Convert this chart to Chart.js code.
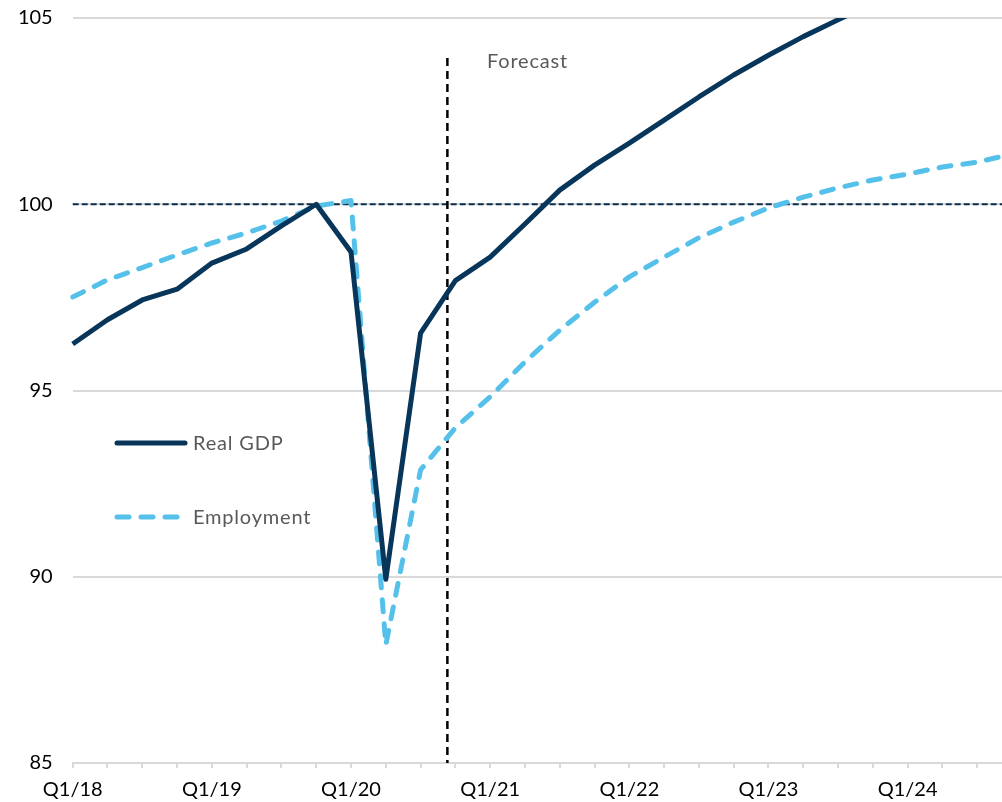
<!DOCTYPE html>
<html>
<head>
<meta charset="utf-8">
<script src="https://cdn.jsdelivr.net/npm/chart.js@4.4.0/dist/chart.umd.min.js"></script>
<style>
html, body { margin: 0; padding: 0; background: #fff; overflow: hidden; }
#wrap { position: relative; width: 1022px; height: 802px; }
</style>
</head>
<body>
<div id="wrap"><canvas id="myChart" width="1022" height="802"></canvas></div>
<script>
// quarters Q1/18 .. Q4/24
var quarters = ['Q1/18','Q2/18','Q3/18','Q4/18','Q1/19','Q2/19','Q3/19','Q4/19',
                'Q1/20','Q2/20','Q3/20','Q4/20','Q1/21','Q2/21','Q3/21','Q4/21',
                'Q1/22','Q2/22','Q3/22','Q4/22','Q1/23','Q2/23','Q3/23','Q4/23',
                'Q1/24','Q2/24','Q3/24','Q4/24'];
var tickLabels = ['Q1/18','Q1/19','Q1/20','Q1/21','Q1/22','Q1/23','Q1/24'];

var realGdp = [96.25, 96.9, 97.43, 97.72, 98.42, 98.8, 99.42, 100.0,
               98.72, 89.93, 96.54, 97.95, 98.58, 99.47, 100.38, 101.05,
               101.64, 102.26, 102.88, 103.47, 104.0, 104.5, 104.95, 105.4,
               105.85, 106.3, 106.7, 107.1];
var employment = [97.51, 97.97, 98.3, 98.64, 98.96, 99.23, 99.55, 99.95,
                  100.1, 88.17, 92.87, 94.0, 94.83, 95.77, 96.62, 97.37,
                  98.05, 98.58, 99.1, 99.52, 99.9, 100.19, 100.44, 100.65,
                  100.81, 101.0, 101.13, 101.35];

var baseline = 100;
var forecastAt = 10.77;   // between Q3/20 and Q4/20
var yTicks = [85, 90, 95, 100, 105];

var gdpColor = '#08365a';
var empColor = '#55c1ea';
var textGray = '#595959';

var refLines = {
    id: 'refLines',
    beforeDatasetsDraw: function(chart) {
        var ctx = chart.ctx, a = chart.chartArea;
        var x = chart.scales.x, y = chart.scales.y;
        ctx.save();
        // baseline at 100
        var yb = y.getPixelForValue(baseline);
        ctx.strokeStyle = '#0b2e4f';
        ctx.lineWidth = 2;
        ctx.setLineDash([6, 3]);
        ctx.beginPath();
        ctx.moveTo(a.left, yb);
        ctx.lineTo(a.right, yb);
        ctx.stroke();
        // forecast divider
        var xf = x.getPixelForValue(forecastAt);
        ctx.strokeStyle = '#000';
        ctx.lineWidth = 2.5;
        ctx.setLineDash([8, 5]);
        ctx.beginPath();
        ctx.moveTo(xf, 58);
        ctx.lineTo(xf, a.bottom);
        ctx.stroke();
        ctx.restore();
    },
    afterDraw: function(chart) {
        var ctx = chart.ctx;
        ctx.save();
        ctx.font = '20px Lato';
        ctx.letterSpacing = '0.8px';
        ctx.fillStyle = textGray;
        ctx.textBaseline = 'middle';
        ctx.fillText('Forecast', 487, 62);
        // legend
        ctx.lineWidth = 5;
        ctx.lineCap = 'round';
        ctx.strokeStyle = gdpColor;
        ctx.setLineDash([]);
        ctx.beginPath();
        ctx.moveTo(117, 443);
        ctx.lineTo(185, 443);
        ctx.stroke();
        ctx.strokeStyle = empColor;
        ctx.setLineDash([12, 12]);
        ctx.beginPath();
        ctx.moveTo(117, 517);
        ctx.lineTo(185, 517);
        ctx.stroke();
        ctx.fillText('Real GDP', 193, 444);
        ctx.fillText('Employment', 193, 518);
        ctx.restore();
    }
};

var ctx = document.getElementById('myChart').getContext('2d');
var myChart = new Chart(ctx, {
    type: 'line',
    data: {
        labels: quarters,
        datasets: [{
            label: 'Employment',
            data: employment,
            borderColor: empColor,
            borderWidth: 5,
            borderDash: [12, 12],
            borderCapStyle: 'round',
            borderJoinStyle: 'round',
            pointRadius: 0,
            tension: 0,
            order: 2
        }, {
            label: 'Real GDP',
            data: realGdp,
            borderColor: gdpColor,
            borderWidth: 5,
            borderJoinStyle: 'round',
            pointRadius: 0,
            tension: 0,
            order: 1
        }]
    },
    options: {
        responsive: false,
        animation: false,
        devicePixelRatio: 1,
        layout: { padding: { top: 18, left: 0, right: 0, bottom: 0 } },
        plugins: {
            legend: { display: false },
            tooltip: { enabled: false }
        },
        scales: {
            x: {
                offset: false,
                grid: { drawOnChartArea: false, drawTicks: true, tickLength: 5, color: '#d9d9d9', lineWidth: 2 },
                border: { color: '#d9d9d9', width: 2 },
                ticks: {
                    autoSkip: false,
                    maxRotation: 0,
                    minRotation: 0,
                    padding: 10,
                    color: '#000',
                    font: { family: 'Lato', size: 20 },
                    callback: function(v, i) {
                        var q = quarters[i];
                        return tickLabels.indexOf(q) >= 0 ? q : '';
                    }
                },
                afterFit: function(scale) { scale.height = 39; }
            },
            y: {
                min: 85,
                max: 105,
                afterBuildTicks: function(scale) {
                    scale.ticks = yTicks.map(function(v) { return { value: v }; });
                },
                grid: { drawTicks: false, color: '#d9d9d9', lineWidth: 2 },
                border: { display: false },
                ticks: {
                    padding: 20,
                    color: '#000',
                    font: { family: 'Lato', size: 20 }
                },
                afterFit: function(scale) {
                    scale.width = 72.7;
                    scale.paddingTop = 0;
                    scale.paddingBottom = 0;
                }
            }
        }
    },
    plugins: [refLines]
});
</script>
</body>
</html>
